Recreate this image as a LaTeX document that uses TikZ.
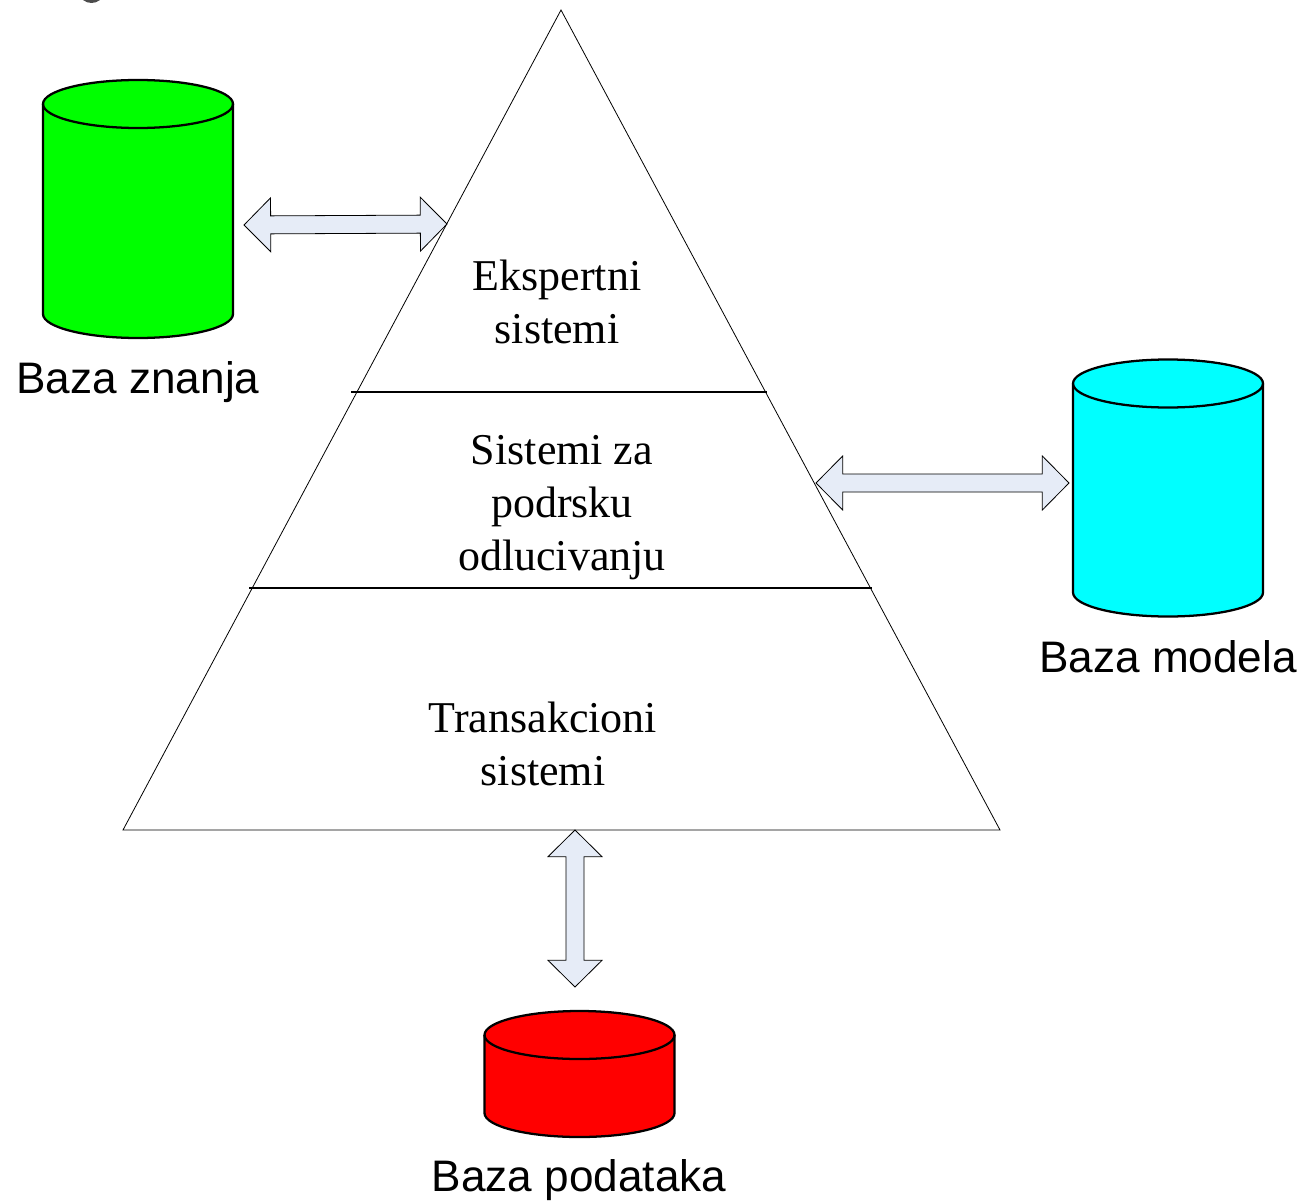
\documentclass[tikz,border=0pt]{standalone}
\usepackage{fontspec}
\setmainfont{Liberation Serif}
\newfontfamily\labelfont{Liberation Sans}
\usetikzlibrary{calc}
\definecolor{arrowfill}{HTML}{E6ECF7}
\definecolor{dbgreen}{HTML}{00FF00}
\definecolor{dbcyan}{HTML}{00FFFF}
\definecolor{dbred}{HTML}{FF0000}
\newcommand{\blockarrow}[2]{%
  \path[blockarrowstyle]
    (#1)
    -- ($(#1)!20pt!(#2)!20.25pt!90:(#2)$)
    -- ($(#1)!20pt!(#2)!6.75pt!90:(#2)$)
    -- ($(#2)!20pt!(#1)!6.75pt!-90:(#1)$)
    -- ($(#2)!20pt!(#1)!20.25pt!-90:(#1)$)
    -- (#2)
    -- ($(#2)!20pt!(#1)!20.25pt!90:(#1)$)
    -- ($(#2)!20pt!(#1)!6.75pt!90:(#1)$)
    -- ($(#1)!20pt!(#2)!6.75pt!-90:(#2)$)
    -- ($(#1)!20pt!(#2)!20.25pt!-90:(#2)$)
    -- cycle;}
% #1 = name of the box node, #2 = colour: the drum is drawn inside the box
\newcommand{\drum}[2]{%
  \draw[drumline,fill=#2]
    ([yshift=-18pt]#1.north west) -- ([yshift=18pt]#1.south west)
    arc[start angle=180,end angle=360,x radius=71.25pt,y radius=18pt]
    -- ([yshift=-18pt]#1.north east)
    arc[start angle=0,end angle=180,x radius=71.25pt,y radius=18pt] -- cycle;
  \draw[drumline]
    ([yshift=-18pt]#1.north east)
    arc[start angle=360,end angle=180,x radius=71.25pt,y radius=18pt];}
\tikzset{
  x=0.75pt,y=-0.75pt,
  blockarrowstyle/.style={draw=black,fill=arrowfill,line width=0.6pt,line join=miter},
  drumline/.style={draw=black,line width=1.7pt},
  dbbox/.style={rectangle,inner sep=0pt,minimum width=142.5pt,outer sep=0pt},
  dblabel/.style={font=\labelfont\fontsize{33.1}{36}\selectfont,inner sep=0pt},
  layertext/.style={font=\fontsize{33}{40}\selectfont,align=center,inner sep=0pt},
  pyramidline/.style={draw=black,line width=0.6pt,line join=miter},
  layerline/.style={draw=black,line width=1.5pt},
}
\begin{document}
\begin{tikzpicture}
\useasboundingbox (0,0) rectangle (1303,1202);
\fill[white] (0,0) rectangle (1303,1202);
% clipped remnant at the top edge
\fill[black!70] (83,0) .. controls (88,4) and (95,4) .. (100,0) -- cycle;

\coordinate (apex) at (561,10);
\coordinate (baseL) at (123,830);
\coordinate (baseR) at (1000,830);
\draw[pyramidline] (apex) -- (baseR) -- (baseL) -- cycle;
\coordinate (l1a) at (351,392); \coordinate (l1b) at (767,392);
\coordinate (l2a) at (249,588); \coordinate (l2b) at (872,588);
\draw[layerline] (l1a) -- (l1b);
\draw[layerline] (l2a) -- (l2b);

\node[layertext] (ekspert) at (557,302) {Ekspertni\\sistemi};
\node[layertext] (podrska) at (562,507.5) {Sistemi za\\podrsku\\odlucivanju};
\node[layertext] (trans) at (543,744) {Transakcioni\\sistemi};

\node[dbbox,minimum height=193.5pt] (znanja) at (138,209) {};
\node[dbbox,minimum height=192.75pt] (modela) at (1168,488) {};
\node[dbbox,minimum height=94.5pt] (podataka) at (579.5,1074) {};
\drum{znanja}{dbgreen}
\drum{modela}{dbcyan}
\drum{podataka}{dbred}

\node[dblabel] (lznanja) at (138,382) {Baza znanja};
\node[dblabel] (lmodela) at (1168,657) {Baza modela};
\node[dblabel] (lpodataka) at (579,1180) {Baza podataka};

\coordinate (a1) at (244,225); \coordinate (a2) at (447,224);
\coordinate (b1) at (816,483); \coordinate (b2) at (1069,483);
\coordinate (c1) at (575,830); \coordinate (c2) at (575,987);
\blockarrow{a1}{a2}
\blockarrow{b1}{b2}
\blockarrow{c1}{c2}
\end{tikzpicture}
\end{document}
